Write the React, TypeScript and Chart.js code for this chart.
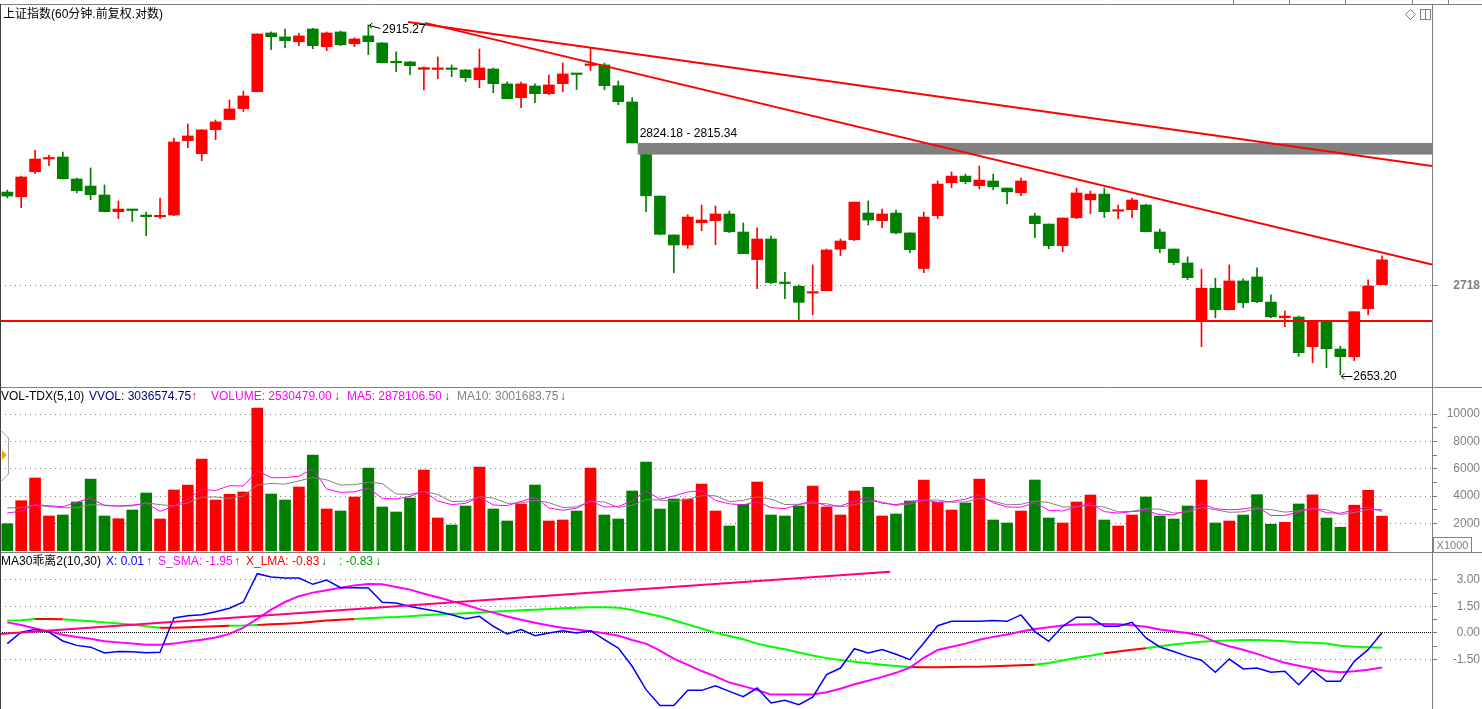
import React, { useEffect, useRef } from 'react';
import { Chart, registerables } from 'chart.js';

Chart.register(...registerables);

// ---------------- data ----------------
const candleOpen = [
  2787.1, 2783.6, 2802.4, 2812.0, 2813.5, 2796.9, 2791.6, 2784.9, 2772.4, 2774.0,
  2769.9, 2768.6, 2769.9, 2825.9, 2816.0, 2834.3, 2842.0, 2850.4, 2863.4, 2909.0,
  2905.9, 2902.1, 2912.1, 2898.3, 2909.8, 2900.6, 2906.7, 2901.2, 2886.4, 2886.4,
  2880.7, 2880.6, 2881.3, 2880.2, 2872.7, 2880.9, 2869.4, 2858.8, 2867.8, 2861.9,
  2869.6, 2877.5, 2883.7, 2884.1, 2868.0, 2855.5, 2815.34, 2784.1, 2755.1, 2747.7,
  2764.2, 2765.7, 2770.7, 2757.3, 2736.9, 2752.1, 2719.7, 2717.3, 2712.3, 2714.1,
  2744.5, 2751.6, 2771.4, 2765.7, 2771.4, 2756.6, 2730.3, 2769.4, 2794.1, 2799.1,
  2791.9, 2795.4, 2790.1, 2786.6, 2769.2, 2763.2, 2747.2, 2767.9, 2781.3, 2785.6,
  2772.8, 2773.9, 2777.4, 2757.3, 2744.7, 2734.4, 2692.2, 2715.9, 2700.2, 2721.2,
  2724.1, 2705.8, 2694.4, 2694.9, 2673.5, 2691.5, 2671.8, 2666.3, 2701.0, 2718.5,
];
const candleHigh = [
  2788.6, 2799.1, 2818.8, 2815.0, 2817.3, 2797.6, 2805.2, 2792.4, 2780.4, 2774.2,
  2772.2, 2782.6, 2827.9, 2838.7, 2834.2, 2841.7, 2857.0, 2863.9, 2908.4, 2909.8,
  2912.1, 2908.8, 2912.7, 2909.8, 2910.6, 2905.3, 2915.27, 2901.6, 2894.2, 2886.8,
  2882.7, 2890.3, 2884.1, 2880.6, 2896.5, 2881.7, 2870.9, 2870.9, 2869.4, 2876.3,
  2885.6, 2877.5, 2897.0, 2885.6, 2871.7, 2858.8, 2815.34, 2784.1, 2755.1, 2770.2,
  2777.4, 2776.6, 2772.9, 2764.0, 2760.3, 2754.3, 2727.6, 2718.3, 2733.0, 2744.7,
  2752.1, 2779.6, 2780.4, 2774.4, 2773.7, 2756.6, 2772.2, 2795.4, 2802.2, 2800.6,
  2806.7, 2800.6, 2790.1, 2797.6, 2771.4, 2763.2, 2767.7, 2790.1, 2787.9, 2790.1,
  2777.4, 2782.6, 2778.1, 2759.5, 2744.7, 2738.9, 2729.9, 2723.2, 2733.0, 2722.7,
  2730.8, 2711.0, 2699.3, 2695.6, 2691.5, 2691.5, 2673.9, 2698.8, 2722.0, 2739.6,
];
const candleLow = [
  2782.8, 2775.4, 2800.9, 2806.9, 2796.9, 2786.6, 2781.3, 2772.2, 2767.2, 2765.0,
  2754.6, 2767.2, 2769.4, 2820.6, 2810.7, 2826.7, 2841.9, 2848.1, 2863.3, 2895.9,
  2897.5, 2899.1, 2896.7, 2895.2, 2899.1, 2898.3, 2892.1, 2885.6, 2878.9, 2876.5,
  2864.7, 2873.4, 2875.0, 2871.1, 2866.5, 2862.6, 2857.9, 2851.1, 2854.9, 2861.1,
  2863.4, 2865.0, 2879.7, 2865.0, 2853.4, 2824.18, 2772.4, 2755.1, 2727.3, 2745.2,
  2758.3, 2747.9, 2756.8, 2741.2, 2715.6, 2719.2, 2708.3, 2692.9, 2696.6, 2714.0,
  2739.8, 2750.9, 2762.5, 2760.5, 2755.8, 2742.0, 2727.3, 2767.2, 2790.4, 2793.4,
  2789.6, 2788.8, 2778.3, 2784.3, 2753.1, 2744.9, 2742.7, 2767.2, 2770.9, 2768.0,
  2767.2, 2768.0, 2757.4, 2742.0, 2733.2, 2722.2, 2673.5, 2694.4, 2700.1, 2701.7,
  2705.3, 2694.4, 2687.9, 2666.6, 2662.0, 2658.4, 2653.2, 2663.5, 2696.6, 2718.5,
];
const candleClose = [
  2784.1, 2798.4, 2812.0, 2812.8, 2797.1, 2788.1, 2785.1, 2772.4, 2774.4, 2773.3,
  2768.7, 2769.2, 2824.9, 2829.5, 2834.1, 2840.2, 2850.1, 2860.1, 2908.2, 2906.1,
  2903.0, 2906.7, 2899.1, 2909.0, 2899.8, 2904.3, 2902.2, 2885.8, 2885.8, 2883.5,
  2882.0, 2881.4, 2880.6, 2874.2, 2881.7, 2869.6, 2858.0, 2869.4, 2861.9, 2868.6,
  2877.1, 2876.7, 2884.5, 2868.0, 2855.7, 2824.18, 2784.3, 2755.6, 2747.7, 2768.4,
  2766.2, 2770.7, 2757.5, 2741.3, 2752.1, 2720.0, 2719.3, 2705.6, 2713.0, 2744.0,
  2750.6, 2779.6, 2766.2, 2770.7, 2756.6, 2744.2, 2768.4, 2793.1, 2799.1, 2794.9,
  2796.1, 2791.1, 2787.3, 2795.4, 2763.5, 2747.2, 2767.7, 2786.4, 2785.6, 2772.4,
  2773.5, 2781.1, 2757.5, 2745.0, 2734.7, 2723.6, 2715.9, 2700.2, 2721.2, 2705.3,
  2706.1, 2695.1, 2695.6, 2669.2, 2691.5, 2672.0, 2666.3, 2698.8, 2717.5, 2736.7,
];
// volume in units of 1000
const volumeK = [
  1976, 3659, 5320, 2539, 2612, 3564, 5247, 2539, 2342, 2978,
  4222, 2320, 4442, 4808, 6711, 3710, 4127, 4296, 10443, 4149,
  3710, 4662, 7003, 3052, 2905, 3930, 6052, 3198, 2832, 3857,
  5906, 2393, 1880, 3271, 6125, 3052, 2173, 3418, 4808, 2173,
  2247, 2905, 6052, 2612, 2320, 4369, 6491, 3052, 3783, 3783,
  4881, 2905, 1808, 3393, 5027, 2612, 2539, 3271, 4735, 3198,
  2612, 4369, 4637, 2539, 2686, 3637, 5174, 3564, 2978, 3491,
  5247, 2247, 2027, 2905, 5174, 2393, 2027, 3564, 4076, 2247,
  1808, 2612, 3930, 2539, 2320, 3271, 5174, 2027, 2173, 2612,
  4100, 1940, 2080, 3420, 4086, 2390, 1720, 3330, 4420, 2530.48,
];
// the nine bars before the first visible one (needed by the moving averages)
const volumeBeforeK = [3500, 3600, 3400, 3500, 3500, 3000, 2900, 3000, 2924];

const indX = [
  -0.60, 0.05, 0.19, 0.05, -0.45, -0.70, -0.80, -1.13, -1.05, -1.06,
  -1.12, -1.09, 0.85, 0.97, 1.03, 1.20, 1.40, 1.75, 3.35, 3.16,
  3.11, 3.11, 2.75, 2.99, 2.56, 2.55, 2.54, 1.73, 1.70, 1.50,
  1.35, 1.22, 1.03, 0.80, 0.94, 0.38, -0.06, 0.19, -0.15, 0.00,
  0.13, 0.00, 0.13, -0.38, -0.85, -1.88, -3.20, -4.10, -4.10, -3.24,
  -3.24, -2.98, -3.30, -3.60, -3.11, -3.95, -3.80, -4.05, -3.62, -2.35,
  -1.98, -0.89, -1.13, -0.94, -1.20, -1.51, -0.56, 0.41, 0.66, 0.66,
  0.66, 0.70, 0.66, 1.02, 0.08, -0.47, 0.38, 0.89, 0.89, 0.38,
  0.38, 0.60, -0.28, -0.79, -1.05, -1.32, -1.54, -2.22, -1.47, -2.03,
  -1.98, -2.22, -2.16, -2.92, -2.11, -2.73, -2.73, -1.60, -0.94, 0.01,
];
const indSSma = [
  0.60, 0.45, 0.25, 0.08, -0.10, -0.23, -0.33, -0.47, -0.53, -0.59,
  -0.66, -0.67, -0.60, -0.48, -0.38, -0.25, -0.05, 0.30, 0.80, 1.32,
  1.75, 2.08, 2.28, 2.42, 2.55, 2.69, 2.77, 2.75, 2.60, 2.45,
  2.22, 2.02, 1.80, 1.60, 1.35, 1.15, 0.93, 0.75, 0.58, 0.42,
  0.30, 0.20, 0.10, -0.02, -0.15, -0.40, -0.60, -1.00, -1.45, -1.80,
  -2.15, -2.45, -2.80, -3.00, -3.22, -3.48, -3.48, -3.48, -3.48, -3.35,
  -3.15, -2.90, -2.70, -2.48, -2.25, -1.95, -1.40, -0.96, -0.78, -0.60,
  -0.38, -0.22, -0.08, 0.08, 0.23, 0.33, 0.42, 0.48, 0.50, 0.51,
  0.49, 0.44, 0.35, 0.20, 0.10, 0.00, -0.15, -0.50, -0.75, -0.95,
  -1.18, -1.45, -1.68, -1.85, -2.00, -2.15, -2.22, -2.16, -2.07, -1.95,
];
const indXLma = [
  0.70, 0.72, 0.79, 0.79, 0.78, 0.72, 0.66, 0.60, 0.53, 0.46,
  0.38, 0.30, 0.30, 0.32, 0.35, 0.38, 0.41, 0.42, 0.45, 0.49,
  0.52, 0.56, 0.63, 0.70, 0.75, 0.79, 0.83, 0.87, 0.90, 0.95,
  1.00, 1.04, 1.08, 1.12, 1.16, 1.20, 1.24, 1.28, 1.32, 1.36,
  1.40, 1.43, 1.45, 1.45, 1.42, 1.30, 1.12, 0.95, 0.72, 0.48,
  0.25, 0.02, -0.17, -0.35, -0.60, -0.78, -0.92, -1.10, -1.27, -1.42,
  -1.52, -1.62, -1.71, -1.79, -1.86, -1.92, -1.94, -1.93, -1.92, -1.91,
  -1.90, -1.88, -1.85, -1.82, -1.79, -1.70, -1.55, -1.40, -1.28, -1.15,
  -1.05, -0.95, -0.86, -0.75, -0.65, -0.57, -0.50, -0.45, -0.42, -0.40,
  -0.40, -0.42, -0.47, -0.52, -0.55, -0.60, -0.72, -0.78, -0.80, -0.83,
];
// index spans where X_LMA is drawn in red (green elsewhere)
const lmaRedSpans = [[2, 4], [11, 16], [18, 25], [65, 74], [79, 82]];

const priceTicks = [2718];
const volumeTicks = [1000, 2000, 3000, 4000, 5000, 6000, 7000, 8000, 9000, 10000];
const indicatorTicks = [-1.5, -0.75, 0, 0.75, 1.5, 2.25, 3];

const supportPrice = 2692.0;
const gapIndex = 45;
const gapTop = 2824.18;
const gapBottom = 2815.34;
const highIndex = 26;
const highPrice = 2915.27;
const lowIndex = 96;
const lowPrice = 2653.2;
const trendUpper = [{ x: 28.86, y: 2917.6 }, { x: 102.6, y: 2806.7 }];
const trendLower = [{ x: 30.08, y: 2916.9 }, { x: 102.6, y: 2733.3 }];
const indicatorTrend = [{ x: -0.526, y: -0.06 }, { x: 63.57, y: 3.46 }];

const titleText = '上证指数(60分钟.前复权.对数)';

// ---------------- scale ranges / style ----------------
const X_MIN = -0.526;
const X_MAX = 102.6;
const PRICE_MIN = 2644.65;
const PRICE_MAX = 2930.98;
const VOL_MIN = -95;
const VOL_MAX = 11833;
const IND_MIN = -4.294;
const IND_MAX = 4.463;

const W = 1482;
const FONT = '"Liberation Sans", Arial, "Noto Sans CJK SC", sans-serif';
const RED = '#ff0000';
const GREEN = '#008000';
const GRAY = '#808080';

const isUp = candleClose.map((c, i) => c >= candleOpen[i]);
const candleColors = isUp.map((u) => (u ? RED : GREEN));

const movingAverage = (n: number) => {
  const all = [...volumeBeforeK, ...volumeK];
  return volumeK.map((_, i) => {
    const end = i + volumeBeforeK.length;
    let s = 0;
    for (let k = end - n + 1; k <= end; k++) s += all[k];
    return { x: i, y: s / n };
  });
};

const segIsRed = (i: number) => lmaRedSpans.some(([a, b]) => i >= a && i + 1 <= b);

const baseOptions = (padTop: number, padBottom: number) => ({
  animation: false,
  responsive: false,
  maintainAspectRatio: false,
  events: [],
  layout: { padding: { top: padTop, bottom: padBottom, left: 0, right: 2 } },
  plugins: { legend: { display: false }, tooltip: { enabled: false }, title: { display: false } },
});

const xScale = () => ({
  type: 'linear',
  min: X_MIN,
  max: X_MAX,
  offset: false,
  display: false,
  grid: { display: false, offset: false },
});

const fitAxis = (s: any) => {
  s.width = 48;
  s.paddingTop = 0;
  s.paddingBottom = 0;
};

function strokeLine(ctx: any, x1: number, y1: number, x2: number, y2: number) {
  ctx.beginPath();
  ctx.moveTo(x1, y1);
  ctx.lineTo(x2, y2);
  ctx.stroke();
}

const mainDecor = {
  id: 'mainDecor',
  beforeDatasetsDraw(chart: any) {
    const { ctx, chartArea: ca, scales } = chart;
    const ys = scales.y;
    const el = chart.getDatasetMeta(3).data[gapIndex];
    const left = el.x + el.width / 2;
    const top = ys.getPixelForValue(gapTop);
    const bottom = ys.getPixelForValue(gapBottom);
    ctx.save();
    ctx.fillStyle = GRAY;
    ctx.fillRect(left, top, ca.right - left, bottom - top);
    ctx.fillStyle = '#000';
    ctx.font = `12px ${FONT}`;
    ctx.textBaseline = 'middle';
    ctx.textAlign = 'left';
    ctx.fillText(`${gapTop.toFixed(2)} - ${gapBottom.toFixed(2)}`, left + 2, top - 9);
    ctx.restore();
  },
  afterDraw(chart: any) {
    const { ctx, chartArea: ca, scales } = chart;
    const xs = scales.x;
    const ys = scales.y;
    const H = chart.height;
    ctx.save();
    ctx.lineWidth = 1;
    ctx.font = `12px ${FONT}`;
    ctx.textBaseline = 'middle';
    ctx.textAlign = 'left';
    ctx.fillStyle = '#000';
    ctx.strokeStyle = '#000';
    // highest price marker
    const hx = xs.getPixelForValue(highIndex);
    const hy = ys.getPixelForValue(highPrice);
    strokeLine(ctx, hx + 1, hy + 0.5, hx + 12, hy + 3.5);
    ctx.beginPath();
    ctx.moveTo(hx + 4, hy - 2);
    ctx.lineTo(hx + 1, hy + 0.5);
    ctx.lineTo(hx + 3.5, hy + 3.5);
    ctx.stroke();
    ctx.fillText(highPrice.toFixed(2), hx + 14, hy + 5);
    // lowest price marker
    const lx = xs.getPixelForValue(lowIndex);
    const ly = ys.getPixelForValue(lowPrice);
    strokeLine(ctx, lx + 1, ly + 1.5, lx + 12, ly + 1.5);
    ctx.beginPath();
    ctx.moveTo(lx + 4, ly - 1.5);
    ctx.lineTo(lx + 1, ly + 1.5);
    ctx.lineTo(lx + 4, ly + 4.5);
    ctx.stroke();
    ctx.fillText(lowPrice.toFixed(2), lx + 13, ly + 2);
    // frame
    ctx.strokeStyle = GRAY;
    strokeLine(ctx, 0, 4.5, W, 4.5);
    [1233, 1289, 1345, 1412, 1448].forEach((m) => strokeLine(ctx, m + 0.5, 0, m + 0.5, 4));
    strokeLine(ctx, ca.right + 0.5, 4, ca.right + 0.5, H);
    strokeLine(ctx, 0, H - 0.5, W, H - 0.5);
    ctx.strokeStyle = '#404040';
    strokeLine(ctx, 0.5, 4, 0.5, H);
    // small toolbar icons
    ctx.strokeStyle = GRAY;
    ctx.beginPath();
    ctx.moveTo(1410.5, 9.5);
    ctx.lineTo(1415.5, 14.5);
    ctx.lineTo(1410.5, 19.5);
    ctx.lineTo(1405.5, 14.5);
    ctx.closePath();
    ctx.stroke();
    ctx.strokeRect(1420.5, 9.5, 10, 10);
    strokeLine(ctx, 1425.5, 9.5, 1425.5, 19.5);
    ctx.restore();
  },
};

const volDecor = {
  id: 'volDecor',
  afterDraw(chart: any) {
    const { ctx, chartArea: ca } = chart;
    const H = chart.height;
    ctx.save();
    ctx.lineWidth = 1;
    ctx.strokeStyle = GRAY;
    strokeLine(ctx, ca.right + 0.5, 0, ca.right + 0.5, H);
    strokeLine(ctx, 0, H - 0.5, W, H - 0.5);
    ctx.strokeStyle = '#404040';
    strokeLine(ctx, 0.5, 0, 0.5, H);
    // side handle
    ctx.strokeStyle = '#a0a0a0';
    ctx.beginPath();
    ctx.moveTo(0.5, 42);
    ctx.lineTo(8.5, 50);
    ctx.lineTo(8.5, 86);
    ctx.lineTo(0.5, 94);
    ctx.stroke();
    ctx.fillStyle = '#f0a000';
    ctx.beginPath();
    ctx.moveTo(2, 62);
    ctx.lineTo(6.5, 67);
    ctx.lineTo(2, 72);
    ctx.closePath();
    ctx.fill();
    // unit box
    ctx.strokeStyle = GRAY;
    ctx.strokeRect(1433.5, 149.5, 38, 15);
    ctx.fillStyle = GRAY;
    ctx.font = `11px ${FONT}`;
    ctx.textAlign = 'center';
    ctx.textBaseline = 'middle';
    ctx.fillText('X1000', 1452.5, 157.5);
    ctx.restore();
  },
};

const indDecor = {
  id: 'indDecor',
  afterDraw(chart: any) {
    const { ctx, chartArea: ca } = chart;
    const H = chart.height;
    ctx.save();
    ctx.lineWidth = 1;
    ctx.strokeStyle = GRAY;
    strokeLine(ctx, ca.right + 0.5, 0, ca.right + 0.5, H);
    ctx.strokeStyle = '#404040';
    strokeLine(ctx, 0.5, 0, 0.5, H);
    ctx.restore();
  },
};

function mainConfig(): any {
  return {
    type: 'bar',
    data: {
      datasets: [
        { type: 'line', data: trendUpper, borderColor: RED, borderWidth: 2, pointRadius: 0, order: 0 },
        { type: 'line', data: trendLower, borderColor: RED, borderWidth: 2, pointRadius: 0, order: 0 },
        {
          type: 'line',
          data: [{ x: X_MIN, y: supportPrice }, { x: X_MAX, y: supportPrice }],
          borderColor: RED,
          borderWidth: 2,
          pointRadius: 0,
          order: 0,
        },
        {
          type: 'bar',
          data: candleOpen.map((o, i) => ({ x: i, y: [o, candleClose[i]] })),
          backgroundColor: candleColors,
          grouped: false,
          barThickness: 11,
          maxBarThickness: 11,
          minBarLength: 1.5,
          order: 1,
        },
        {
          type: 'bar',
          data: candleLow.map((l, i) => ({ x: i, y: [l, candleHigh[i]] })),
          backgroundColor: candleColors,
          grouped: false,
          barThickness: 1,
          maxBarThickness: 1,
          order: 2,
        },
      ],
    },
    options: {
      ...baseOptions(5, 1),
      scales: {
        x: xScale(),
        y: {
          type: 'logarithmic',
          position: 'right',
          min: PRICE_MIN,
          max: PRICE_MAX,
          afterFit: fitAxis,
          afterBuildTicks: (s: any) => {
            s.ticks = priceTicks.map((v) => ({ value: v }));
          },
          ticks: {
            autoSkip: false,
            callback: (v: any) => String(v),
            color: GRAY,
            crossAlign: 'far',
            font: { family: FONT, size: 12, weight: 'bold' },
          },
          grid: { color: GRAY, tickColor: GRAY, tickLength: 6, lineWidth: 1 },
          border: { display: false, dash: [1, 4] },
        },
      },
    },
    plugins: [mainDecor],
  };
}

function volConfig(): any {
  return {
    type: 'bar',
    data: {
      datasets: [
        { type: 'line', data: movingAverage(5), borderColor: '#ff00ff', borderWidth: 1, pointRadius: 0, order: 0 },
        { type: 'line', data: movingAverage(10), borderColor: GRAY, borderWidth: 1, pointRadius: 0, order: 0 },
        {
          type: 'bar',
          data: volumeK.map((v, i) => ({ x: i, y: v })),
          backgroundColor: candleColors,
          grouped: false,
          barThickness: 11,
          maxBarThickness: 11,
          order: 1,
        },
      ],
    },
    options: {
      ...baseOptions(1, 1),
      scales: {
        x: xScale(),
        y: {
          type: 'linear',
          position: 'right',
          min: VOL_MIN,
          max: VOL_MAX,
          afterFit: fitAxis,
          afterBuildTicks: (s: any) => {
            s.ticks = volumeTicks.map((v) => ({ value: v }));
          },
          ticks: {
            autoSkip: false,
            callback: (v: any) => (v % 2000 === 0 ? String(v) : ''),
            color: GRAY,
            crossAlign: 'far',
            font: { family: FONT, size: 12 },
          },
          grid: {
            color: (c: any) => (c.tick && c.tick.value % 2000 === 0 ? GRAY : 'rgba(0,0,0,0)'),
            tickColor: GRAY,
            tickLength: 5,
            lineWidth: 1,
          },
          border: { display: false, dash: [1, 4] },
        },
      },
    },
    plugins: [volDecor],
  };
}

function indConfig(): any {
  const lmaRed = indXLma.map((v, i) => ({ x: i, y: segIsRed(i) || (i > 0 && segIsRed(i - 1)) ? v : null }));
  const lmaGreen = indXLma.map((v, i) => {
    const greenAfter = i < indXLma.length - 1 && !segIsRed(i);
    const greenBefore = i > 0 && !segIsRed(i - 1);
    return { x: i, y: greenAfter || greenBefore ? v : null };
  });
  return {
    type: 'line',
    data: {
      datasets: [
        { data: indicatorTrend, borderColor: '#ff0080', borderWidth: 2, pointRadius: 0, order: 0 },
        { data: indX.map((v, i) => ({ x: i, y: v })), borderColor: '#0000ff', borderWidth: 1.5, pointRadius: 0, order: 1 },
        { data: indSSma.map((v, i) => ({ x: i, y: v })), borderColor: '#ff00ff', borderWidth: 2, pointRadius: 0, order: 2 },
        { data: lmaRed, borderColor: RED, borderWidth: 2, pointRadius: 0, spanGaps: false, order: 3 },
        { data: lmaGreen, borderColor: '#00ff00', borderWidth: 2, pointRadius: 0, spanGaps: false, order: 3 },
      ],
    },
    options: {
      ...baseOptions(1, 0),
      scales: {
        x: xScale(),
        y: {
          type: 'linear',
          position: 'right',
          min: IND_MIN,
          max: IND_MAX,
          afterFit: fitAxis,
          afterBuildTicks: (s: any) => {
            s.ticks = indicatorTicks.map((v) => ({ value: v }));
          },
          ticks: {
            autoSkip: false,
            callback: (v: any) => (Math.abs(v / 1.5 - Math.round(v / 1.5)) < 1e-6 ? Number(v).toFixed(2) : ''),
            color: GRAY,
            crossAlign: 'far',
            font: { family: FONT, size: 12 },
          },
          grid: {
            color: (c: any) => {
              if (!c.tick) return GRAY;
              const v = c.tick.value;
              if (Math.abs(v / 1.5 - Math.round(v / 1.5)) > 1e-6) return 'rgba(0,0,0,0)';
              return v === 0 ? '#000000' : GRAY;
            },
            tickColor: GRAY,
            tickLength: 5,
            lineWidth: 1,
          },
          border: {
            display: false,
            dash: (c: any) => (c.tick && c.tick.value === 0 ? [1, 1] : [1, 4]),
          },
        },
      },
    },
    plugins: [indDecor],
  };
}

const seg = (left: number, color: string, text: string) => (
  <span style={{ position: 'absolute', left, top: 0, color, whiteSpace: 'pre' }}>{text}</span>
);

export default function App() {
  const mainRef = useRef<HTMLCanvasElement | null>(null);
  const volRef = useRef<HTMLCanvasElement | null>(null);
  const indRef = useRef<HTMLCanvasElement | null>(null);

  useEffect(() => {
    document.body.style.margin = '0';
    const charts = [
      new Chart(mainRef.current as any, mainConfig()),
      new Chart(volRef.current as any, volConfig()),
      new Chart(indRef.current as any, indConfig()),
    ];
    return () => charts.forEach((c) => c.destroy());
  }, []);

  const headerStyle: any = { position: 'absolute', left: 0, height: 14, width: 700, lineHeight: '14px' };

  return (
    <div
      style={{
        position: 'absolute',
        left: 0,
        top: 0,
        width: W,
        height: 709,
        overflow: 'hidden',
        background: '#ffffff',
        fontFamily: FONT,
        fontSize: 12,
      }}
    >
      <canvas ref={mainRef} width={W} height={388} style={{ position: 'absolute', left: 0, top: 0, width: W, height: 388 }} />
      <canvas ref={volRef} width={W} height={165} style={{ position: 'absolute', left: 0, top: 388, width: W, height: 165 }} />
      <canvas ref={indRef} width={W} height={156} style={{ position: 'absolute', left: 0, top: 553, width: W, height: 156 }} />

      <div style={{ ...headerStyle, top: 7 }}>{seg(3, '#000000', titleText)}</div>

      <div style={{ ...headerStyle, top: 389 }}>
        {seg(1, '#000000', 'VOL-TDX(5,10)')}
        {seg(89, '#000080', 'VVOL: 3036574.75')}
        {seg(191, RED, '↑')}
        {seg(211, '#ff00ff', 'VOLUME: 2530479.00')}
        {seg(334, GREEN, '↓')}
        {seg(347, '#ff00ff', 'MA5: 2878106.50')}
        {seg(444, GREEN, '↓')}
        {seg(457, GRAY, 'MA10: 3001683.75')}
        {seg(560, GREEN, '↓')}
      </div>

      <div style={{ ...headerStyle, top: 554 }}>
        {seg(1, '#000000', 'MA30乖离2(10,30)')}
        {seg(106, '#0000ff', 'X: 0.01')}
        {seg(146, RED, '↑')}
        {seg(158, '#ff00ff', 'S_SMA: -1.95')}
        {seg(234, RED, '↑')}
        {seg(246, RED, 'X_LMA: -0.83')}
        {seg(321, GREEN, '↓')}
        {seg(339, '#00a000', ': -0.83')}
        {seg(375, GREEN, '↓')}
      </div>
    </div>
  );
}
